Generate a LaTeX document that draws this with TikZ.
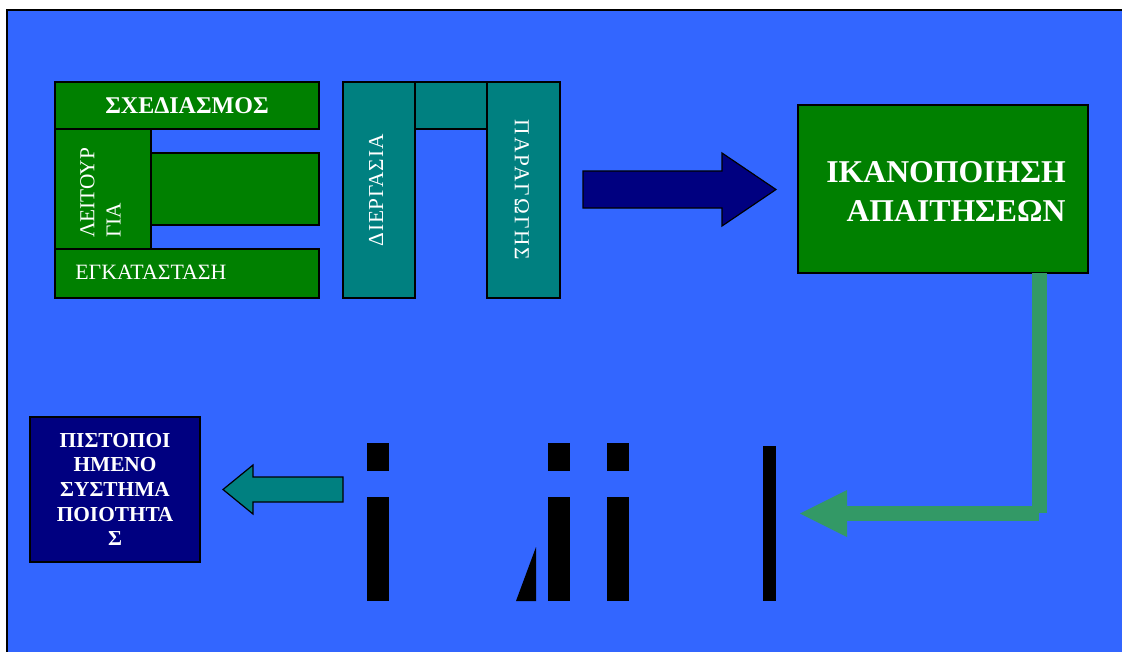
\documentclass[tikz,border=0pt]{standalone}
\usepackage{fontspec}
\setmainfont{Liberation Serif}
\usetikzlibrary{fit}
\definecolor{slideblue}{HTML}{3366FF}
\definecolor{boxgreen}{HTML}{008000}
\definecolor{boxteal}{HTML}{008080}
\definecolor{boxnavy}{HTML}{000080}
\definecolor{flowgreen}{HTML}{339966}
\begin{document}
\begin{tikzpicture}[x=0.75pt,y=-0.75pt,
  panel/.style={draw=black, line width=0.9pt, inner sep=0pt, outer sep=0pt},
  greenbox/.style={panel, fill=boxgreen},
  tealbox/.style={panel, fill=boxteal},
  navybox/.style={panel, fill=boxnavy},
  plain/.style={text=white, inner sep=0pt, font=\fontsize{16}{19}\selectfont},
  strong/.style={text=white, inner sep=0pt, font=\fontsize{18}{21}\selectfont\bfseries},
  big/.style={text=white, inner sep=0pt, font=\fontsize{23.8}{28}\selectfont\bfseries},
  glyph/.style={fill=black},
  flow/.style={fill=flowgreen},
]
\useasboundingbox (0,0) rectangle (1122,651);
\fill[white] (0,0) rectangle (1122,651);
% slide background
\filldraw[fill=slideblue, draw=black, line width=1.5pt] (7,9.5) rectangle (1135,665);

% planning / operation / installation block
\node[greenbox, fit={(55,82) (319,129)}] (plan) {};
\node[greenbox, fit={(55,129) (151,249)}] (oper) {};
\node[greenbox, fit={(151,153) (319,225)}] (mid) {};
\node[greenbox, fit={(55,249) (319,298)}] (inst) {};
\node[strong] (plantext) at (plan.center) {ΣΧΕΔΙΑΣΜΟΣ};
\node[plain, rotate=90, anchor=west] (opertextA) at (87.5,238) {ΛΕΙΤΟΥΡ};
\node[plain, rotate=90, anchor=west] (opertextB) at (113.5,238) {ΓΙΑ};
\node[plain, anchor=west, font=\fontsize{16.4}{19}\selectfont] (insttext) at (75,272) {ΕΓΚΑΤΑΣΤΑΣΗ};

% process / production block
\node[tealbox, fit={(343,82) (415,298)}] (proc) {};
\node[tealbox, fit={(415,82) (487,129)}] (bridge) {};
\node[tealbox, fit={(487,82) (560,298)}] (prod) {};
\node[plain, rotate=90] (proctext) at (376,190.5)
  {\addfontfeature{LetterSpace=4}ΔΙΕΡΓΑΣΙΑ};
\node[plain, rotate=-90] (prodtext) at (522,190)
  {\addfontfeature{LetterSpace=9.5}ΠΑΡΑΓΩΓΗΣ};

% requirements box
\node[greenbox, fit={(798,105) (1088,273)}] (req) {};
\node[big] (reqA) at (946,172) {ΙΚΑΝΟΠΟΙΗΣΗ};
\node[big] (reqB) at (956,211) {ΑΠΑΙΤΗΣΕΩΝ};

% certified system box
\node[navybox, fit={(30,417) (200,562)}] (cert) {};
\node[text=white, inner sep=0pt, align=center,
      font=\fontsize{16}{18.5}\selectfont\bfseries] (certtext) at (cert.center)
  {ΠΙΣΤΟΠΟΙ\\ΗΜΕΝΟ\\ΣΥΣΤΗΜΑ\\ΠΟΙΟΤΗΤΑ\\Σ};

% block arrows
\filldraw[fill=boxnavy, draw=black, line width=0.9pt]
  (583,171) -- (722,171) -- (722,153) -- (776,189.5) -- (722,226) -- (722,208) -- (583,208) -- cycle;
\filldraw[fill=boxteal, draw=black, line width=0.9pt]
  (343,477) -- (253,477) -- (253,465) -- (223,489.5) -- (253,514) -- (253,502) -- (343,502) -- cycle;

% return path from the requirements box
\fill[flow] (1032,273) rectangle (1047,513);
\fill[flow] (847,506) rectangle (1039,521);
\fill[flow] (800,513.5) -- (847,490) -- (847,537) -- cycle;

% clipped black letter shapes
\fill[glyph] (367,443) rectangle (389,471);
\fill[glyph] (367,497) rectangle (389,601);
\fill[glyph] (516,601) -- (536,547) -- (536,601) -- cycle;
\fill[glyph] (548,443) rectangle (570,471);
\fill[glyph] (548,497) rectangle (570,601);
\fill[glyph] (607,443) rectangle (629,471);
\fill[glyph] (607,497) rectangle (629,601);
\fill[glyph] (763,446) rectangle (776,601);
\end{tikzpicture}
\end{document}
